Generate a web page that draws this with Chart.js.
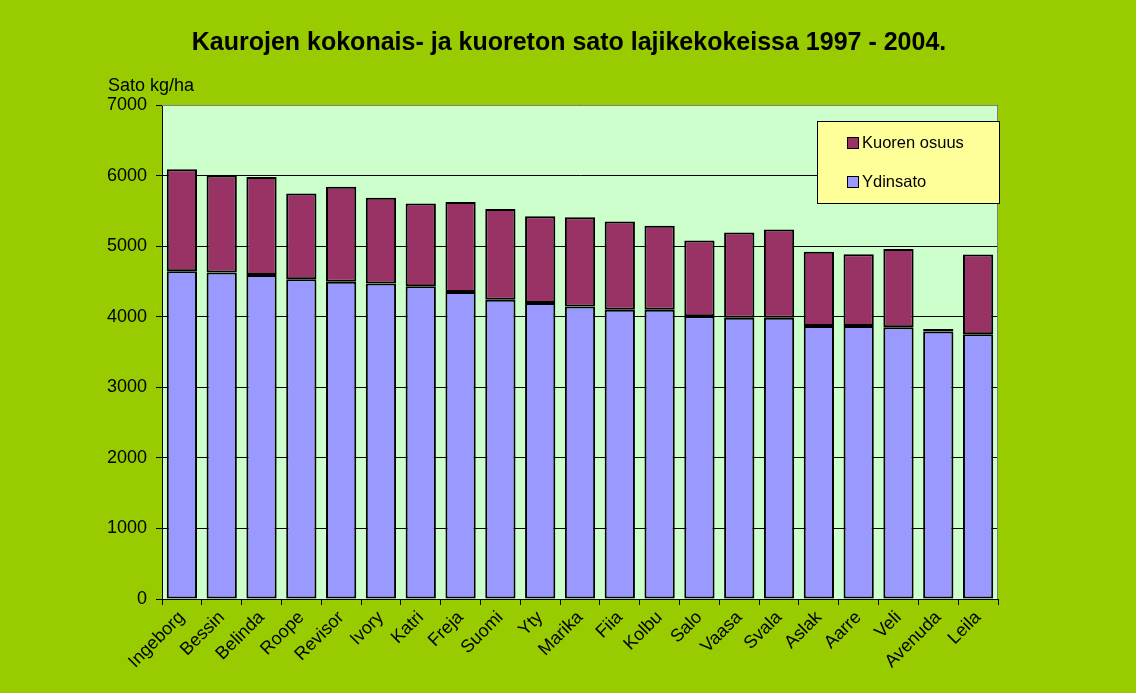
<!DOCTYPE html>
<html>
<head>
<meta charset="utf-8">
<script src="https://cdn.jsdelivr.net/npm/chart.js@4.4.1/dist/chart.umd.min.js"></script>
<style>
  html, body { margin: 0; padding: 0; background: #99CC00; }
  #wrap { width: 1136px; height: 693px; position: relative; }
</style>
</head>
<body>
<div id="wrap"><canvas id="myChart" width="1136" height="693"></canvas></div>
<script>
var lajikkeet = ['Ingeborg', 'Bessin', 'Belinda', 'Roope', 'Revisor', 'Ivory', 'Katri', 'Freja', 'Suomi', 'Yty',
    'Marika', 'Fiia', 'Kolbu', 'Salo', 'Vaasa', 'Svala', 'Aslak', 'Aarre', 'Veli', 'Avenuda', 'Leila'];
// ydinsato (kg/ha)
var ydinsato = [4645, 4625, 4590, 4530, 4495, 4470, 4430, 4350, 4240, 4195,
    4145, 4100, 4100, 4005, 3985, 3985, 3870, 3870, 3850, 3790, 3750];
// kokonaissato (kg/ha)
var kokonais = [6090, 6000, 5980, 5745, 5840, 5685, 5605, 5625, 5525, 5425,
    5410, 5350, 5290, 5080, 5195, 5235, 4920, 4885, 4960, 3825, 4880];
var kuori = kokonais.map(function(v, i) { return v - ydinsato[i]; });
var yTicks = [0, 1000, 2000, 3000, 4000, 5000, 6000, 7000];

var otsikko = 'Kaurojen kokonais- ja kuoreton sato lajikekokeissa 1997 - 2004.';
var fontti = '"Liberation Sans", Arial, sans-serif';

// tausta, otsikko ja selite piirretään itse
var omaPiirto = {
    id: 'omaPiirto',
    beforeDraw: function(chart) {
        var c = chart.ctx, a = chart.chartArea;
        c.save();
        c.fillStyle = '#99CC00';
        c.fillRect(0, 0, chart.width, chart.height);
        c.fillStyle = '#CCFFCC';
        c.fillRect(a.left, a.top, a.right - a.left, a.bottom - a.top);
        c.restore();
    },
    afterDraw: function(chart) {
        var c = chart.ctx, a = chart.chartArea;
        c.save();
        // harmaa reunus ylä ja oikea
        c.strokeStyle = '#808080';
        c.lineWidth = 1;
        c.beginPath();
        c.moveTo(a.left, a.top + 0.5);
        c.lineTo(a.right - 0.5, a.top + 0.5);
        c.lineTo(a.right - 0.5, a.bottom);
        c.stroke();

        c.fillStyle = '#000';
        c.font = 'bold 25px ' + fontti;
        c.textAlign = 'center';
        c.textBaseline = 'middle';
        c.fillText(otsikko, 569, 43);

        c.font = '18px ' + fontti;
        c.textAlign = 'left';
        c.fillText('Sato kg/ha', 108, 86);

        // selite
        var lx = 817, ly = 121, lw = 182, lh = 82;
        c.fillStyle = '#FFFF99';
        c.fillRect(lx, ly, lw, lh);
        c.strokeStyle = '#000';
        c.strokeRect(lx + 0.5, ly + 0.5, lw, lh);
        var rivit = [['Kuoren osuus', '#993366', 143], ['Ydinsato', '#9999FF', 182]];
        c.font = '16.5px ' + fontti;
        rivit.forEach(function(r) {
            c.fillStyle = r[1];
            c.fillRect(847, r[2] - 6, 12, 12);
            c.strokeStyle = '#000';
            c.strokeRect(847.5, r[2] - 5.5, 11, 11);
            c.fillStyle = '#000';
            c.fillText(r[0], 862, r[2]);
        });
        c.restore();
    }
};

const ctx = document.getElementById('myChart');
var chartKaura = new Chart(ctx, {
    type: 'bar',
    data: {
        labels: lajikkeet,
        datasets: [
            {
                label: 'Ydinsato',
                data: ydinsato,
                backgroundColor: '#9999FF',
                borderColor: '#000',
                borderWidth: 2,
                borderSkipped: false,
                barPercentage: 0.76,
                categoryPercentage: 1
            },
            {
                label: 'Kuoren osuus',
                data: kuori,
                backgroundColor: '#993366',
                borderColor: '#000',
                borderWidth: 2,
                borderSkipped: false,
                barPercentage: 0.76,
                categoryPercentage: 1
            }
        ]
    },
    options: {
        responsive: false,
        animation: false,
        layout: { padding: { left: 0, right: 138, top: 105, bottom: 0 } },
        plugins: {
            legend: { display: false },
            title: { display: false },
            tooltip: { enabled: false }
        },
        scales: {
            x: {
                stacked: true,
                afterFit: function(s) { s.height = 94; },
                grid: { drawOnChartArea: false, color: '#000', tickLength: 6, offset: true },
                border: { color: '#000', width: 1 },
                ticks: {
                    color: '#000',
                    font: { family: fontti, size: 18 },
                    minRotation: 45,
                    maxRotation: 45,
                    autoSkip: false,
                    padding: 2
                }
            },
            y: {
                stacked: true,
                min: 0,
                max: 7000,
                afterFit: function(s) { s.width = 162; },
                afterBuildTicks: function(s) { s.ticks = yTicks.map(function(v) { return { value: v }; }); },
                grid: { color: '#000', tickLength: 6 },
                border: { color: '#000', width: 1 },
                ticks: {
                    color: '#000',
                    font: { family: fontti, size: 18 },
                    padding: 9,
                    callback: function(v) { return String(v); }
                }
            }
        }
    },
    plugins: [omaPiirto]
});
</script>
</body>
</html>
